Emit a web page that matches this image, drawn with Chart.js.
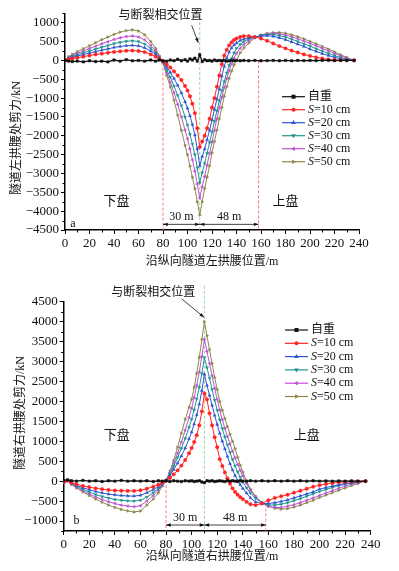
<!DOCTYPE html>
<html><head><meta charset="utf-8">
<script src="https://cdn.jsdelivr.net/npm/chart.js@4.4.0/dist/chart.umd.min.js"></script>
<style>
html,body{margin:0;padding:0;background:#fff;}
#wrap{position:relative;width:399px;height:571px;}
.box{position:absolute;left:0;width:399px;}
</style></head><body>
<div id="wrap">
<div class="box" style="top:0;height:270px"><canvas id="chartA"></canvas></div>
<div class="box" style="top:270px;height:301px"><canvas id="chartB"></canvas></div>
</div>
<script>
// x positions along the tunnel (m)
var X = [0,3,6,10,15,20,25,30,35,40,45,50,55,60,65,70,
  74,77,80,83,86,89,92,95,98,
  100,102,104,106,108,110,112,114,116,118,120,122,124,126,128,130,132,134,136,138,140,
  143,146,150,155,160,165,170,175,180,185,190,195,200,205,210,215,220,225,230,
  236];

var NAMES = ['自重','S=10 cm','S=20 cm','S=30 cm','S=40 cm','S=50 cm'];
var XTICKS = [0,20,40,60,80,100,120,140,160,180,200,220,240];
var YTICKS_A = [-4500,-4000,-3500,-3000,-2500,-2000,-1500,-1000,-500,0,500,1000];
var YTICKS_B = [-1000,-500,0,500,1000,1500,2000,2500,3000,3500,4000,4500];

// chart a : left haunch shear (kN)
var A_self = [0,-20,-30,-20,-40,-10,-30,-20,-40,10,-20,20,-10,0,-20,10,
  -20,10,-10,-20,10,-10,30,-10,20,
  -20,40,10,60,-20,150,-30,20,-10,0,-20,10,-10,0,-10,0,-20,-10,0,-10,0,
  -10,0,-10,0,-10,-5,0,-10,0,-10,0,-5,0,-5,0,0,-5,0,0,
  0];
var A_s10 = [0,30,50,70,100,130,160,180,205,225,240,255,260,250,220,160,
  100,40,-20,-100,-190,-290,-400,-520,-680,
  -800,-950,-1150,-1400,-1800,-2300,-2150,-2000,-1800,-1550,-1250,-1000,-700,-400,-100,130,280,400,480,540,580,
  620,645,645,625,580,520,450,380,320,260,210,160,120,80,50,25,10,5,0,
  0];
var A_s20 = [0,50,80,115,155,195,235,270,305,345,370,390,400,385,335,250,
  160,60,-30,-170,-320,-480,-660,-860,-1100,
  -1270,-1470,-1700,-1980,-2350,-2800,-2550,-2350,-2100,-1850,-1580,-1300,-1030,-760,-420,-160,60,220,330,410,460,
  530,570,600,620,650,655,640,600,550,490,430,370,300,240,180,130,80,45,15,
  0];
var A_s30 = [0,65,105,150,200,250,300,350,395,445,480,505,520,500,435,320,
  205,75,-40,-250,-450,-680,-930,-1200,-1500,
  -1720,-1960,-2220,-2500,-2850,-3250,-2980,-2730,-2460,-2180,-1900,-1620,-1340,-1070,-800,-560,-330,-130,50,200,320,
  420,500,570,615,660,685,685,660,620,565,500,440,380,310,250,185,125,75,30,
  0];
var A_s40 = [0,80,130,185,250,315,375,440,495,555,600,635,650,625,545,400,
  255,95,-50,-320,-580,-860,-1170,-1500,-1850,
  -2080,-2350,-2640,-2940,-3280,-3650,-3350,-3080,-2780,-2470,-2160,-1850,-1550,-1260,-980,-720,-480,-270,-90,60,190,
  320,420,520,610,665,700,715,705,675,630,575,515,455,390,320,255,185,120,60,
  0];
var A_s50 = [0,100,160,230,310,390,470,550,620,690,750,790,810,780,680,500,
  320,120,-60,-400,-700,-1050,-1450,-1850,-2250,
  -2500,-2800,-3100,-3400,-3750,-4100,-3750,-3400,-3100,-2800,-2450,-2150,-1850,-1550,-1250,-950,-700,-480,-280,-120,0,
  200,330,460,600,670,715,735,740,720,680,630,570,505,440,370,300,225,150,80,
  0];

// chart b : right haunch shear (kN)
var B_self = [20,30,10,0,20,0,10,-10,10,0,20,0,10,0,10,-10,
  10,0,10,-10,10,0,-10,10,0,
  10,-10,0,10,-20,-40,10,0,10,-10,0,10,0,-10,10,0,10,0,-10,10,0,
  0,10,0,10,0,10,0,10,0,10,0,10,0,5,0,5,0,5,0,
  0];
var B_s10 = [-30,15,-40,-80,-120,-150,-180,-200,-220,-235,-240,-245,-245,-230,-190,-140,
  -90,-40,10,80,170,270,390,530,700,
  830,980,1150,1400,1750,2200,2050,1700,1400,1100,850,550,380,220,70,-60,-180,-270,-340,-400,-450,
  -520,-580,-600,-560,-480,-420,-380,-340,-290,-240,-190,-140,-100,-70,-50,-30,-20,-10,-5,
  0];
var B_s20 = [-30,15,-50,-110,-165,-215,-260,-295,-325,-345,-360,-370,-375,-355,-290,-210,
  -140,-65,10,140,290,450,630,830,1060,
  1230,1430,1660,1930,2270,2680,2400,2150,1900,1650,1420,1200,1000,810,620,440,280,140,20,-90,-180,
  -300,-420,-520,-565,-560,-540,-510,-470,-420,-370,-320,-270,-200,-160,-125,-90,-60,-35,-15,
  0];
var B_s30 = [-35,15,-60,-130,-205,-275,-335,-385,-425,-460,-480,-495,-500,-480,-400,-290,
  -190,-90,10,180,380,590,820,1070,1350,
  1550,1790,2060,2350,2700,3100,2850,2580,2300,2030,1780,1540,1320,1110,910,720,540,380,230,100,-20,
  -170,-300,-430,-550,-600,-600,-580,-540,-490,-440,-380,-320,-260,-210,-160,-115,-75,-45,-20,
  0];
var B_s40 = [-35,15,-70,-150,-240,-320,-395,-460,-515,-560,-600,-625,-640,-615,-500,-360,
  -230,-105,10,215,450,700,980,1280,1600,
  1830,2100,2400,2740,3130,3560,3250,2950,2640,2330,2050,1780,1540,1320,1120,930,750,580,420,270,130,
  -60,-230,-400,-540,-630,-660,-660,-630,-590,-540,-480,-420,-360,-300,-240,-180,-125,-75,-35,
  0];
var B_s50 = [-40,10,-80,-170,-270,-360,-450,-530,-600,-660,-710,-745,-775,-750,-600,-450,
  -290,-130,10,250,520,850,1200,1550,1850,
  2050,2350,2700,3100,3550,4000,3650,3300,2950,2600,2300,2000,1780,1570,1370,1180,1000,820,600,400,230,
  0,-200,-380,-540,-630,-680,-700,-690,-650,-600,-540,-480,-410,-350,-290,-230,-170,-110,-60,
  0];

var COLORS = ['#111111','#ff2424','#2f55d0','#1f9590','#c052d2','#8c884c'];
var STYLES = [['rect',0],['circle',0],['triangle',0],['triangle',180],['triangle',270],['triangle',90]];
var SERIF = "'Liberation Serif','Noto Sans CJK SC',serif";

function marker(ctx, style, rot, cx, cy, r, color) {
  ctx.save();
  ctx.translate(cx, cy);
  ctx.rotate(rot * Math.PI / 180);
  ctx.fillStyle = color;
  ctx.beginPath();
  if (style === 'rect') ctx.rect(-r, -r, 2 * r, 2 * r);
  else if (style === 'circle') ctx.arc(0, 0, r, 0, Math.PI * 2);
  else { ctx.moveTo(0, -r * 1.3); ctx.lineTo(r * 1.15, r * 0.7); ctx.lineTo(-r * 1.15, r * 0.7); ctx.closePath(); }
  ctx.fill();
  ctx.restore();
}

function arrowHead(ctx, x1, y1, x2, y2, len) {
  var a = Math.atan2(y2 - y1, x2 - x1);
  ctx.beginPath();
  ctx.moveTo(x2, y2);
  ctx.lineTo(x2 - len * Math.cos(a - 0.35), y2 - len * Math.sin(a - 0.35));
  ctx.lineTo(x2 - len * Math.cos(a + 0.35), y2 - len * Math.sin(a + 0.35));
  ctx.closePath();
  ctx.fill();
}

var annot = {
  id: 'annot',
  beforeDatasetsDraw: function(chart, args, o) {
    var ctx = chart.ctx, x = chart.scales.x, y = chart.scales.y;
    ctx.save();
    ctx.setLineDash([3, 2]);
    ctx.lineWidth = 0.9;
    o.vlines.forEach(function(l) {
      var px = x.getPixelForValue(l.x);
      ctx.strokeStyle = l.color;
      ctx.beginPath();
      ctx.moveTo(px, y.getPixelForValue(l.from));
      ctx.lineTo(px, chart.chartArea.bottom);
      ctx.stroke();
    });
    ctx.restore();
  },
  afterDraw: function(chart, args, o) {
    var ctx = chart.ctx, x = chart.scales.x, y = chart.scales.y, ca = chart.chartArea;
    ctx.save();
    // minor ticks
    ctx.strokeStyle = '#000';
    ctx.lineWidth = 1;
    ctx.beginPath();
    for (var v = Math.ceil(y.min / 250) * 250; v <= y.max; v += 250) {
      if (v % 500 !== 0) { var py = Math.round(y.getPixelForValue(v)) + 0.5; ctx.moveTo(ca.left - 2.5, py); ctx.lineTo(ca.left, py); }
    }
    for (var h = 10; h < 240; h += 20) {
      var px = Math.round(x.getPixelForValue(h)) + 0.5; ctx.moveTo(px, ca.bottom); ctx.lineTo(px, ca.bottom + 2.5);
    }
    ctx.stroke();

    ctx.fillStyle = '#111';
    ctx.strokeStyle = '#111';
    // dimension arrows
    var dy = y.getPixelForValue(o.dimY), ty = y.getPixelForValue(o.dimText);
    ctx.lineWidth = 0.8;
    ctx.font = '12px ' + SERIF;
    ctx.textAlign = 'center';
    ctx.textBaseline = 'middle';
    o.dims.forEach(function(d) {
      var x1 = x.getPixelForValue(d[0]), x2 = x.getPixelForValue(d[1]);
      ctx.beginPath(); ctx.moveTo(x1, dy); ctx.lineTo(x2, dy); ctx.stroke();
      arrowHead(ctx, x2, dy, x1, dy, 5);
      arrowHead(ctx, x1, dy, x2, dy, 5);
      ctx.fillText(d[2], (x1 + x2) / 2, ty);
    });
    // fault annotation
    var f = o.fault;
    ctx.font = '12px ' + SERIF;
    ctx.fillText('与断裂相交位置', x.getPixelForValue(f.tx), y.getPixelForValue(f.ty));
    var ax1 = x.getPixelForValue(f.a[0]), ay1 = y.getPixelForValue(f.a[1]);
    var ax2 = x.getPixelForValue(f.a[2]), ay2 = y.getPixelForValue(f.a[3]);
    ctx.beginPath(); ctx.moveTo(ax1, ay1); ctx.lineTo(ax2, ay2); ctx.stroke();
    arrowHead(ctx, ax1, ay1, ax2, ay2, 5);
    // labels
    o.labels.forEach(function(l) {
      ctx.font = l[3] + 'px ' + SERIF;
      ctx.fillText(l[0], x.getPixelForValue(l[1]), y.getPixelForValue(l[2]));
    });
    // axis titles
    ctx.font = '12px ' + SERIF;
    ctx.fillText(o.xTitle, o.xTitlePos[0], o.xTitlePos[1]);
    ctx.save();
    ctx.translate(o.yTitlePos[0], o.yTitlePos[1]);
    ctx.rotate(-Math.PI / 2);
    ctx.fillText(o.yTitle, 0, 0);
    ctx.restore();
    // legend
    var L = o.legend;
    ctx.textAlign = 'left';
    chart.data.datasets.forEach(function(ds, i) {
      var ly = L.y + i * L.dy;
      ctx.strokeStyle = COLORS[i];
      ctx.lineWidth = 1.2;
      ctx.beginPath(); ctx.moveTo(L.x0, ly); ctx.lineTo(L.x1, ly); ctx.stroke();
      marker(ctx, STYLES[i][0], STYLES[i][1], (L.x0 + L.x1) / 2, ly, 2, COLORS[i]);
      ctx.fillStyle = '#111';
      var tx = L.x1 + 3;
      if (NAMES[i].charAt(0) === 'S') {
        ctx.font = 'italic 12px ' + SERIF;
        ctx.fillText('S', tx, ly);
        tx += ctx.measureText('S').width;
        ctx.font = '12px ' + SERIF;
        ctx.fillText(NAMES[i].slice(1), tx, ly);
      } else {
        ctx.font = '12px ' + SERIF;
        ctx.fillText(NAMES[i], tx, ly);
      }
    });
    ctx.restore();
  }
};

function fmt(v) { return v < 0 ? '\u2212' + Math.abs(v) : '' + v; }

function makeChart(id, series, ymin, ymax, yticks, yw, opt) {
  return new Chart(document.getElementById(id), {
    type: 'line',
    data: {
      datasets: series.map(function(s, i) {
        return {
          label: NAMES[i],
          data: X.map(function(xv, k) { return { x: xv, y: s[k] }; }),
          borderColor: COLORS[i], backgroundColor: COLORS[i],
          borderWidth: i === 0 ? 1.3 : 1,
          pointStyle: STYLES[i][0], pointRotation: STYLES[i][1],
          pointRadius: 1.7, pointBorderWidth: 0.5, tension: 0
        };
      })
    },
    options: {
      responsive: true, maintainAspectRatio: false, animation: false,
      layout: { padding: { top: opt.padTop, right: opt.padRight, left: 0, bottom: 0 } },
      plugins: { legend: { display: false }, tooltip: { enabled: false }, annot: opt },
      scales: {
        x: {
          type: 'linear', min: 0, max: 240,
          afterFit: function(s) { s.height = 40; },
          afterBuildTicks: function(s) { s.ticks = XTICKS.map(function(v) { return { value: v }; }); },
          ticks: { autoSkip: false, maxRotation: 0, padding: 2, color: '#111', font: { family: SERIF, size: 13 } },
          grid: { drawOnChartArea: false, drawTicks: true, tickLength: 4, color: '#000' },
          border: { color: '#000', width: 1.5 }
        },
        y: {
          type: 'linear', min: ymin, max: ymax,
          afterFit: function(s) { s.width = yw; },
          afterBuildTicks: function(s) { s.ticks = yticks.map(function(v) { return { value: v }; }); },
          ticks: { autoSkip: false, padding: 2, color: '#111', font: { family: SERIF, size: 13 }, callback: fmt },
          grid: { drawOnChartArea: false, drawTicks: true, tickLength: 4, color: '#000' },
          border: { color: '#000', width: 1.5 }
        }
      }
    },
    plugins: [annot]
  });
}

makeChart('chartA', [A_self, A_s10, A_s20, A_s30, A_s40, A_s50], -4500, 1250, YTICKS_A, 65, {
  padTop: 13.3, padRight: 40,
  vlines: [{ x: 80, from: -60, color: '#ff6a6a' }, { x: 158, from: 0, color: '#ff6a6a' }, { x: 110, from: 1150, color: '#8fd08f' }],
  dimY: -4350, dimText: -4150,
  dims: [[80, 110, '30 m'], [110, 158, '48 m']],
  fault: { tx: 78, ty: 1190, a: [103.4, 930, 108.8, 470] },
  labels: [['下盘', 42, -3750, 13], ['上盘', 180, -3750, 13], ['a', 6.5, -4340, 12]],
  xTitle: '沿纵向隧道左拱腰位置/m', xTitlePos: [212, 262],
  yTitle: '隧道左拱腰处剪力/kN', yTitlePos: [17, 138],
  legend: { x0: 282, x1: 305, y: 96.7, dy: 13 }
});

makeChart('chartB', [B_self, B_s10, B_s20, B_s30, B_s40, B_s50], -1250, 4500, YTICKS_B, 63.7, {
  padTop: 31.7, padRight: 28.3,
  vlines: [{ x: 80, from: -100, color: '#ff6a6a' }, { x: 158, from: -560, color: '#ff6a6a' }, { x: 110, from: 4900, color: '#8fd08f' }],
  dimY: -1100, dimText: -925,
  dims: [[80, 110, '30 m'], [110, 158, '48 m']],
  fault: { tx: 70, ty: 4710, a: [92.3, 4570, 109.7, 4110] },
  labels: [['下盘', 41.4, 1145, 13], ['上盘', 190, 1145, 13], ['b', 10, -1000, 12]],
  xTitle: '沿纵向隧道右拱腰位置/m', xTitlePos: [212, 287],
  yTitle: '隧道右拱腰处剪力/kN', yTitlePos: [21, 143],
  legend: { x0: 285, x1: 308, y: 60, dy: 13.3 }
});
</script>
</body></html>
